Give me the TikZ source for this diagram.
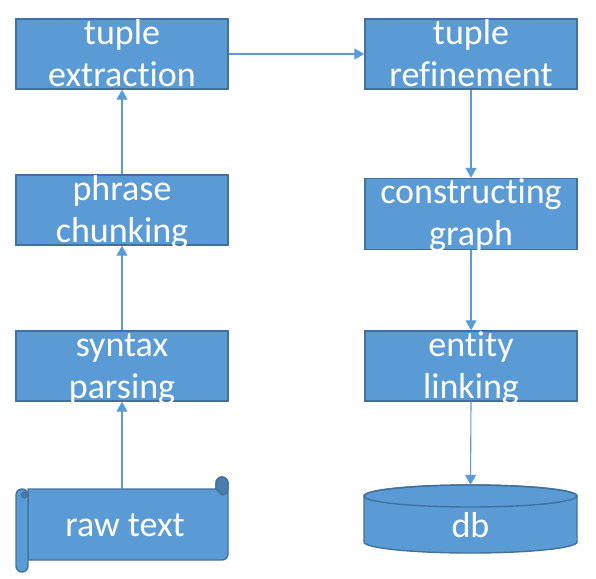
\documentclass[tikz,border=0pt]{standalone}
\usepackage{fontspec}
\setmainfont{Carlito}[Ligatures={NoCommon,NoRare,NoDiscretionary},Contextuals=NoAlternate]
\usetikzlibrary{arrows.meta}
\definecolor{boxfill}{HTML}{5B9BD5}
\definecolor{boxline}{HTML}{41719C}
\definecolor{curl}{HTML}{4A7DAB}
\tikzset{
  procbox/.style={draw=boxline, fill=boxfill, line width=1.4pt, minimum width=212pt, minimum height=70pt, inner sep=0pt},
  lbl/.style={text=white, font=\fontsize{36}{42}\selectfont, inner sep=0pt, anchor=base},
  flow/.style={draw=boxfill, line width=1.1pt, -{Triangle[width=11pt,length=10pt]}},
  shapeline/.style={draw=boxline, fill=boxfill, line width=1.4pt},
}
\begin{document}
\begin{tikzpicture}[x=1pt,y=1pt]
\useasboundingbox (0,0) rectangle (596,578);
% boxes
\node[procbox] (ext) at (122,524) {};
\node[procbox] (ref) at (471,524) {};
\node[procbox] (chk) at (122,368) {};
\node[procbox, minimum height=71pt] (cg) at (471,364) {};
\node[procbox] (syn) at (122,212) {};
\node[procbox] (ent) at (471,212) {};
% scroll (raw text)
\node[minimum width=212pt, minimum height=71pt, inner sep=0pt] (raw) at (122,53.5) {};
\path[shapeline] (28,89) -- (216,89) -- (216,95) arc[start angle=180, end angle=0, radius=6] -- (228,24) arc[start angle=0, end angle=-90, radius=6] -- (28,18) -- cycle;
\path[draw=boxline, fill=curl, line width=1.2pt] (216,89) -- (216,95) arc[start angle=180, end angle=0, radius=6] -- (228,89) arc[start angle=0, end angle=-90, radius=6] -- cycle;
\path[shapeline] (16,83) arc[start angle=180, end angle=0, radius=6] -- (28,12) arc[start angle=0, end angle=-180, radius=6] -- cycle;
\path[draw=boxline, fill=curl, line width=1pt] (24.5,83) circle[radius=3];
% cylinder (db)
\node[minimum width=213pt, minimum height=68pt, inner sep=0pt] (db) at (470.5,59) {};
\path[shapeline] (364,82) -- (364,36) arc[start angle=180, end angle=360, x radius=106.5, y radius=11] -- (577,82) arc[start angle=0, end angle=180, x radius=106.5, y radius=11] -- cycle;
\draw[boxline, line width=1.4pt] (470.5,82) ellipse[x radius=106.5, y radius=11];
% labels
\node[lbl] (l1) at (122,533) {tuple};
\node[lbl] (l2) at (122,491) {extraction};
\node[lbl] (l3) at (471,533) {tuple};
\node[lbl] (l4) at (471,491) {refinement};
\node[lbl] (l5) at (122,377) {phrase};
\node[lbl] (l6) at (122,335) {chunking};
\node[lbl] (l7) at (471,374) {constructing};
\node[lbl] (l8) at (471,332) {graph};
\node[lbl] (l9) at (122,221) {syntax};
\node[lbl] (l10) at (122,179) {parsing};
\node[lbl] (l11) at (471,221) {entity};
\node[lbl] (l12) at (471,179) {linking};
\node[lbl] (l13) at (125,42) {raw text};
\node[lbl] (l14) at (470.5,41) {db};
% connectors
\draw[flow] (raw.north) -- (syn.south);
\draw[flow] (syn.north) -- (chk.south);
\draw[flow] (chk.north) -- (ext.south);
\draw[flow] (ext.east) -- (ref.west);
\draw[flow] (ref.south) -- (cg.north);
\draw[flow] (cg.south) -- (ent.north);
\draw[flow] (ent.south) -- (db.north);
\end{tikzpicture}
\end{document}
